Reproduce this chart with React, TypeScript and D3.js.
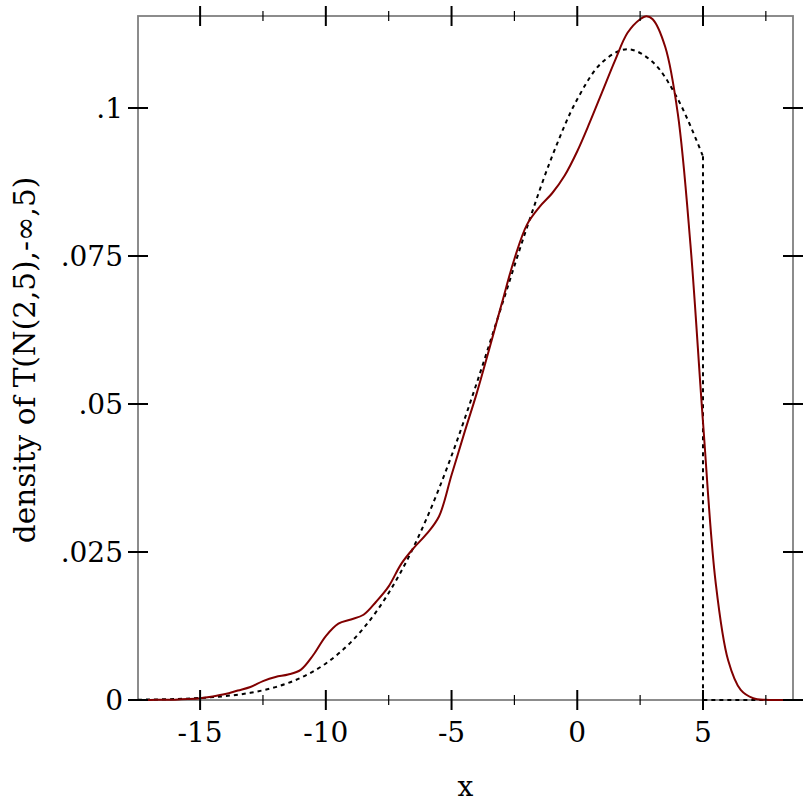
import React from "react";
import * as d3 from "d3";

// Sample density (kernel estimate)
const sampleX = [-17.47, -17, -16.5, -16, -15.5, -15, -14.5, -14, -13.5, -13, -12.5, -12, -11.5, -11, -10.5, -10, -9.5, -9, -8.5, -8, -7.5, -7, -6.5, -6, -5.5, -5, -4.5, -4, -3.5, -3, -2.5, -2, -1.5, -1, -0.5, 0, 0.5, 1, 1.5, 2, 2.5, 2.75, 3, 3.5, 4, 4.5, 5, 5.5, 6, 6.5, 7, 7.5, 8, 8.58];
const sampleY = [0, 0.00001, 0.00003, 0.00006, 0.00015, 0.0003, 0.0006, 0.001, 0.0016, 0.0022, 0.0032, 0.0039, 0.0043, 0.0051, 0.0076, 0.0108, 0.0129, 0.0136, 0.0144, 0.0166, 0.0192, 0.023, 0.0257, 0.028, 0.031, 0.038, 0.045, 0.0518, 0.0593, 0.067, 0.0745, 0.0803, 0.0833, 0.0856, 0.0886, 0.0927, 0.0976, 0.1028, 0.108, 0.1127, 0.115, 0.1155, 0.115, 0.1103, 0.099, 0.077, 0.047, 0.02, 0.0067, 0.0017, 0.0003, 0.00003, 0, 0];

// Theoretical truncated-normal density
const trueX = [-17.47, -17, -16, -15, -14, -13, -12, -11, -10, -9, -8, -7, -6, -5, -4, -3, -2, -1, 0, 1, 2, 3, 4, 5];
const trueY = [0.00005, 0.00008, 0.00017, 0.00034, 0.00066, 0.00122, 0.00218, 0.00374, 0.00617, 0.00978, 0.01488, 0.02176, 0.03057, 0.04126, 0.05351, 0.06668, 0.07983, 0.09183, 0.10149, 0.10776, 0.10994, 0.10776, 0.10149, 0.09183];
const tailX = [5, 5, 8.58];
const tailY = [0.09183, 0, 0];

const xMajor = [-15, -10, -5, 0, 5];
const xMinor = [-12.5, -7.5, -2.5, 2.5, 7.5];
const yMajor = [0, 0.025, 0.05, 0.075, 0.1];
const yLabels = ["0", ".025", ".05", ".075", ".1"];

const xDomain = [-17.47, 8.58];
const yDomain = [0, 0.11554];

export default function App() {
  const L = 138, R = 793, T = 16, B = 700;
  const x = d3.scaleLinear().domain(xDomain).range([L, R]);
  const y = d3.scaleLinear().domain(yDomain).range([B, T]);
  const smooth = d3.line<number>().x((d, i) => x(sampleX[i])).y((d) => y(d)).curve(d3.curveCatmullRom);
  const truePath = d3.line<number>().x((d, i) => x(trueX[i])).y((d) => y(d)).curve(d3.curveCatmullRom);
  const tailPath = d3.line<number>().x((d, i) => x(tailX[i])).y((d) => y(d));
  const font = "'DejaVu Serif', serif";
  const fs = 28;
  return (
    <svg width={812} height={812} style={{ position: "absolute", left: 0, top: 0, background: "#fff" }}>
      <rect x={0} y={0} width={812} height={812} fill="#fff" />
      <rect x={L} y={T} width={R - L} height={B - T} fill="none" stroke="#808080" strokeWidth={1.8} />
      <path d={truePath(trueY) || ""} fill="none" stroke="#000" strokeWidth={2} strokeDasharray="4,4" />
      <path d={tailPath(tailY) || ""} fill="none" stroke="#000" strokeWidth={2} strokeDasharray="4,4" />
      <path d={smooth(sampleY) || ""} fill="none" stroke="#800000" strokeWidth={2} />
      {xMajor.map((v) => (
        <g key={"xm" + v}>
          <line x1={x(v)} x2={x(v)} y1={B - 10} y2={B + 10} stroke="#000" strokeWidth={2} />
          <line x1={x(v)} x2={x(v)} y1={T - 10} y2={T + 10} stroke="#000" strokeWidth={2} />
          <text x={x(v)} y={742} textAnchor="middle" fontFamily={font} fontSize={fs} fill="#000">{v}</text>
        </g>
      ))}
      {xMinor.map((v) => (
        <g key={"xn" + v}>
          <line x1={x(v)} x2={x(v)} y1={B - 5} y2={B + 5} stroke="#000" strokeWidth={1.2} />
          <line x1={x(v)} x2={x(v)} y1={T - 5} y2={T + 5} stroke="#000" strokeWidth={1.2} />
        </g>
      ))}
      {yMajor.map((v, i) => (
        <g key={"ym" + v}>
          <line x1={L - 10} x2={L + 10} y1={y(v)} y2={y(v)} stroke="#000" strokeWidth={2} />
          <line x1={R - 10} x2={R + 10} y1={y(v)} y2={y(v)} stroke="#000" strokeWidth={2} />
          <text x={123} y={y(v) + 10} textAnchor="end" fontFamily={font} fontSize={fs} fill="#000">{yLabels[i]}</text>
        </g>
      ))}
      <text x={(L + R) / 2} y={796} textAnchor="middle" fontFamily={font} fontSize={fs} fill="#000">x</text>
      <text transform={`translate(35, ${(T + B) / 2 + 2}) rotate(-90)`} textAnchor="middle" fontFamily={font} fontSize={29.5} fill="#000">density of T(N(2,5),-∞,5)</text>
    </svg>
  );
}
